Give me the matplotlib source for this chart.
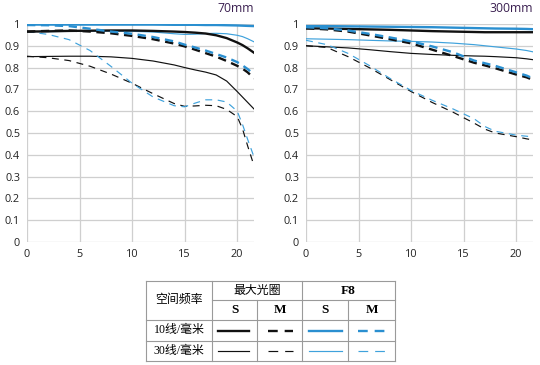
import matplotlib
matplotlib.use("Agg")
from matplotlib import pyplot as plt

plt.rcParams['lines.scale_dashes'] = False

# 70mm panel
x70 = [0, 2, 4, 6, 8, 10, 12, 14, 15, 16, 17, 18, 19, 20, 20.5, 21, 21.6]
s10_max_70 = [0.965, 0.966, 0.968, 0.969, 0.970, 0.970, 0.968, 0.965, 0.963, 0.960, 0.956, 0.948, 0.935, 0.915, 0.903, 0.888, 0.868]
m10_max_70 = [0.965, 0.968, 0.970, 0.965, 0.957, 0.945, 0.930, 0.910, 0.897, 0.882, 0.866, 0.850, 0.830, 0.808, 0.795, 0.778, 0.750]
s10_f8_70 = [0.997, 0.997, 0.997, 0.997, 0.997, 0.997, 0.997, 0.996, 0.996, 0.996, 0.995, 0.995, 0.994, 0.993, 0.992, 0.991, 0.990]
m10_f8_70 = [0.995, 0.994, 0.990, 0.978, 0.965, 0.955, 0.940, 0.920, 0.905, 0.892, 0.878, 0.862, 0.846, 0.825, 0.810, 0.793, 0.768]
s30_max_70 = [0.850, 0.851, 0.852, 0.852, 0.849, 0.842, 0.830, 0.812, 0.800, 0.789, 0.779, 0.766, 0.738, 0.690, 0.665, 0.640, 0.610]
m30_max_70 = [0.852, 0.845, 0.832, 0.806, 0.770, 0.728, 0.680, 0.635, 0.622, 0.624, 0.627, 0.625, 0.608, 0.575, 0.520, 0.440, 0.350]
s30_f8_70 = [0.965, 0.965, 0.966, 0.967, 0.967, 0.966, 0.963, 0.955, 0.952, 0.953, 0.956, 0.957, 0.955, 0.948, 0.942, 0.932, 0.918]
m30_f8_70 = [0.965, 0.952, 0.928, 0.878, 0.805, 0.728, 0.665, 0.625, 0.620, 0.637, 0.652, 0.652, 0.642, 0.600, 0.540, 0.470, 0.390]

# 300mm panel
x300 = [0, 2, 4, 6, 8, 10, 12, 14, 16, 17, 18, 20, 21, 21.6]
s10_max_300 = [0.980, 0.979, 0.977, 0.975, 0.973, 0.970, 0.967, 0.965, 0.963, 0.962, 0.962, 0.962, 0.962, 0.962]
m10_max_300 = [0.980, 0.975, 0.965, 0.948, 0.930, 0.911, 0.882, 0.853, 0.822, 0.810, 0.797, 0.768, 0.755, 0.743]
s10_f8_300 = [0.990, 0.990, 0.989, 0.988, 0.987, 0.986, 0.985, 0.983, 0.981, 0.980, 0.979, 0.978, 0.977, 0.976]
m10_f8_300 = [0.985, 0.980, 0.970, 0.955, 0.938, 0.920, 0.897, 0.870, 0.832, 0.820, 0.808, 0.778, 0.763, 0.750]
s30_max_300 = [0.900, 0.895, 0.890, 0.882, 0.873, 0.865, 0.860, 0.856, 0.853, 0.852, 0.850, 0.845, 0.840, 0.836]
m30_max_300 = [0.900, 0.892, 0.850, 0.800, 0.745, 0.690, 0.640, 0.595, 0.545, 0.518, 0.500, 0.483, 0.473, 0.468]
s30_f8_300 = [0.932, 0.930, 0.928, 0.925, 0.922, 0.920, 0.917, 0.912, 0.905, 0.900, 0.895, 0.885, 0.878, 0.872]
m30_f8_300 = [0.925, 0.905, 0.865, 0.810, 0.750, 0.695, 0.650, 0.610, 0.565, 0.530, 0.508, 0.490, 0.485, 0.482]

titles = ["70mm", "300mm"]
xticks = [0, 5, 10, 15, 20]
yticks = [0, 0.1, 0.2, 0.3, 0.4, 0.5, 0.6, 0.7, 0.8, 0.9, 1]
ytick_labels = ["0", "0.1", "0.2", "0.3", "0.4", "0.5", "0.6", "0.7", "0.8", "0.9", "1"]

BLACK = "#111111"
BLUE = "#2a8fd0"
BLUE_THIN = "#3fa2dc"
THICK = 1.7
THIN = 0.85
DASH_THICK = (6, 4)
DASH_THIN = (5, 4)

fig = plt.figure(figsize=(5.4, 3.65), dpi=100)

panels = [
    (x70, [s10_max_70, m10_max_70, s10_f8_70, m10_f8_70, s30_max_70, m30_max_70, s30_f8_70, m30_f8_70]),
    (x300, [s10_max_300, m10_max_300, s10_f8_300, m10_f8_300, s30_max_300, m30_max_300, s30_f8_300, m30_f8_300]),
]
lefts = [27 / 540, 306 / 540]
widths = [227 / 540, 227 / 540]

for i, (x, ys) in enumerate(panels):
    ax = fig.add_axes([lefts[i], 1 - 242 / 365, widths[i], 218.5 / 365])
    ax.set_xlim(0, 21.6)
    ax.set_ylim(0, 1.002)
    for s in ax.spines.values():
        s.set_visible(False)
    ax.set_xticks(xticks)
    ax.set_yticks(yticks)
    ax.set_yticklabels(ytick_labels)
    ax.tick_params(length=0, pad=5, labelsize=7.8, colors="#222222")
    for lab in ax.get_xticklabels() + ax.get_yticklabels():
        lab.set_family('Open Sans')
    ax.grid(True, color="#cfcfcf", lw=0.9)
    ax.set_axisbelow(True)

    s10m, m10m, s10f, m10f, s30m, m30m, s30f, m30f = ys
    ax.plot(x, s30m, color=BLACK, lw=THIN)
    ax.plot(x, m30m, color=BLACK, lw=THIN, dashes=DASH_THIN)
    ax.plot(x, s30f, color=BLUE_THIN, lw=THIN)
    ax.plot(x, m30f, color=BLUE_THIN, lw=THIN, dashes=DASH_THIN)
    ax.plot(x, s10m, color=BLACK, lw=THICK)
    ax.plot(x, m10m, color=BLACK, lw=THICK, dashes=DASH_THICK)
    ax.plot(x, m10f, color=BLUE, lw=THICK, dashes=DASH_THICK)
    ax.plot(x, s10f, color=BLUE, lw=THICK)

    ax.text(1.0, 1.07, titles[i], transform=ax.transAxes, ha="right", va="center",
            fontsize=8.8, family='Open Sans', color="#3a1f50")

# table legend
tab = fig.add_axes([0, 0, 1, 1], zorder=5)
tab.set_xlim(0, 540)
tab.set_ylim(365, 0)
tab.axis("off")

cols = [146, 212, 257, 302, 348, 395]
rows = [281, 300, 320, 341, 361]
gc = "#9a9a9a"
lwb = 0.8
tab.plot([cols[0], cols[-1]], [rows[0], rows[0]], color=gc, lw=lwb)
tab.plot([cols[1], cols[-1]], [rows[1], rows[1]], color=gc, lw=lwb)
for r in rows[2:]:
    tab.plot([cols[0], cols[-1]], [r, r], color=gc, lw=lwb)
for c in [cols[0], cols[1], cols[3], cols[5]]:
    tab.plot([c, c], [rows[0], rows[-1]], color=gc, lw=lwb)
for c in [cols[2], cols[4]]:
    tab.plot([c, c], [rows[1], rows[-1]], color=gc, lw=lwb)

tfam = ['Liberation Serif', 'Noto Sans CJK SC']
tfs = 8.6
tw = 'medium'
tab.text((cols[0] + cols[1]) / 2, rows[1], "空间频率", ha="center", va="center", family=tfam, fontsize=tfs, weight=tw)
tab.text((cols[1] + cols[3]) / 2, (rows[0] + rows[1]) / 2, "最大光圈", ha="center", va="center", family=tfam, fontsize=tfs, weight=tw)
tab.text((cols[3] + cols[5]) / 2, (rows[0] + rows[1]) / 2, "F8", ha="center", va="center", family=tfam, fontsize=9.5, weight='bold')
for k, lab in enumerate(["S", "M", "S", "M"]):
    tab.text((cols[k + 1] + cols[k + 2]) / 2, (rows[1] + rows[2]) / 2, lab, ha="center", va="center",
             family=tfam, fontsize=9.5, weight='bold')
row_labels = ["10线/毫米", "30线/毫米"]
for k, lab in enumerate(row_labels):
    yc = (rows[k + 2] + rows[k + 3]) / 2
    tab.text((cols[0] + cols[1]) / 2, yc, lab, ha="center", va="center", family=tfam, fontsize=tfs, weight=tw)
    lw = THICK if k == 0 else THIN
    blue = BLUE if k == 0 else BLUE_THIN
    tab.plot([218, 249], [yc, yc], color=BLACK, lw=lw)
    tab.plot([268, 293], [yc, yc], color=BLACK, lw=lw, dashes=(7, 5))
    tab.plot([309, 342], [yc, yc], color=blue, lw=lw)
    tab.plot([358, 385], [yc, yc], color=blue, lw=lw, dashes=(7, 5))

fig.savefig("out.png", dpi=100)
